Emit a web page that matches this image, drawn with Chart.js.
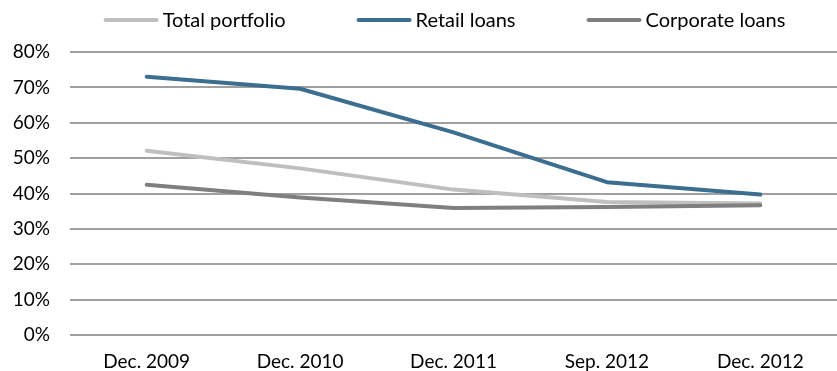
<!DOCTYPE html>
<html>
<head>
<meta charset="utf-8">
<script src="https://cdn.jsdelivr.net/npm/chart.js@4/dist/chart.umd.min.js"></script>
<style>
  html, body { margin: 0; padding: 0; background: #ffffff; }
  #wrap { width: 837px; height: 371px; }
</style>
</head>
<body>
<div id="wrap"><canvas id="chart" width="837" height="371"></canvas></div>
<script>
// Period labels along the x axis
const periods = ["Dec. 2009", "Dec. 2010", "Dec. 2011", "Sep. 2012", "Dec. 2012"];

// Ratios in percent, one array per portfolio segment
const totalPortfolio = [52.1, 47.1, 41.1, 37.6, 37.2];
const retailLoans    = [73.0, 69.6, 57.3, 43.2, 39.7];
const corporateLoans = [42.5, 38.9, 35.9, 36.2, 36.7];

// Series names
const seriesNames = ["Total portfolio", "Retail loans", "Corporate loans"];

// Y axis range and step (percent)
const yMin = 0, yMax = 80, yStep = 10;

const FONT = "Lato, 'Open Sans', sans-serif";
const colors = ["#BFBFBF", "#3B6E8F", "#7F7F7F"];

// Legend drawn as a row of short line swatches above the plot
const lineLegend = {
  id: "lineLegend",
  afterDraw(chart) {
    const ctx = chart.ctx;
    const sw = 55, gap = 4, itemGap = 71, y = 20;
    ctx.save();
    ctx.font = "20px " + FONT;
    const items = chart.data.datasets.map(ds => ({
      label: ds.label, color: ds.borderColor, w: ctx.measureText(ds.label).width
    }));
    const total = items.reduce((s, it) => s + sw + gap + it.w, 0) + itemGap * (items.length - 1);
    const ca = chart.chartArea;
    let x = (ca.left + ca.right) / 2 - 9 - total / 2;
    items.forEach(it => {
      ctx.strokeStyle = it.color;
      ctx.lineWidth = 4;
      ctx.lineCap = "round";
      ctx.beginPath();
      ctx.moveTo(x + 2, y);
      ctx.lineTo(x + sw - 2, y);
      ctx.stroke();
      ctx.fillStyle = "#000000";
      ctx.textBaseline = "middle";
      ctx.textAlign = "left";
      ctx.fillText(it.label, x + sw + gap, y + 1);
      x += sw + gap + it.w + itemGap;
    });
    ctx.restore();
  }
};

const seriesData = [totalPortfolio, retailLoans, corporateLoans];
const drawOrder = [2, 1, 0];

new Chart(document.getElementById("chart"), {
  type: "line",
  data: {
    labels: periods,
    datasets: seriesNames.map((name, i) => ({
      label: name,
      data: seriesData[i],
      borderColor: colors[i],
      backgroundColor: colors[i],
      borderWidth: 4,
      borderCapStyle: "round",
      borderJoinStyle: "round",
      tension: 0,
      pointRadius: 0,
      pointHoverRadius: 0,
      fill: false,
      order: drawOrder[i]
    }))
  },
  options: {
    responsive: false,
    animation: false,
    devicePixelRatio: 1,
    layout: { padding: { top: 52, right: 0, left: 0, bottom: 0 } },
    plugins: {
      legend: { display: false },
      tooltip: { enabled: false }
    },
    scales: {
      x: {
        offset: true,
        grid: { display: false, drawTicks: false },
        border: { display: false },
        ticks: {
          color: "#000000",
          font: { family: FONT, size: 19 },
          padding: 15,
          maxRotation: 0,
          autoSkip: false
        },
        afterFit(scale) { scale.height = 36; }
      },
      y: {
        min: yMin,
        max: yMax,
        grid: { color: "#A0A0A0", lineWidth: 2, drawTicks: false },
        border: { display: false },
        ticks: {
          stepSize: yStep,
          color: "#000000",
          font: { family: FONT, size: 19 },
          padding: 20,
          callback: v => v + "%"
        },
        afterFit(scale) { scale.width = 70; }
      }
    }
  },
  plugins: [lineLegend]
});
</script>
</body>
</html>
